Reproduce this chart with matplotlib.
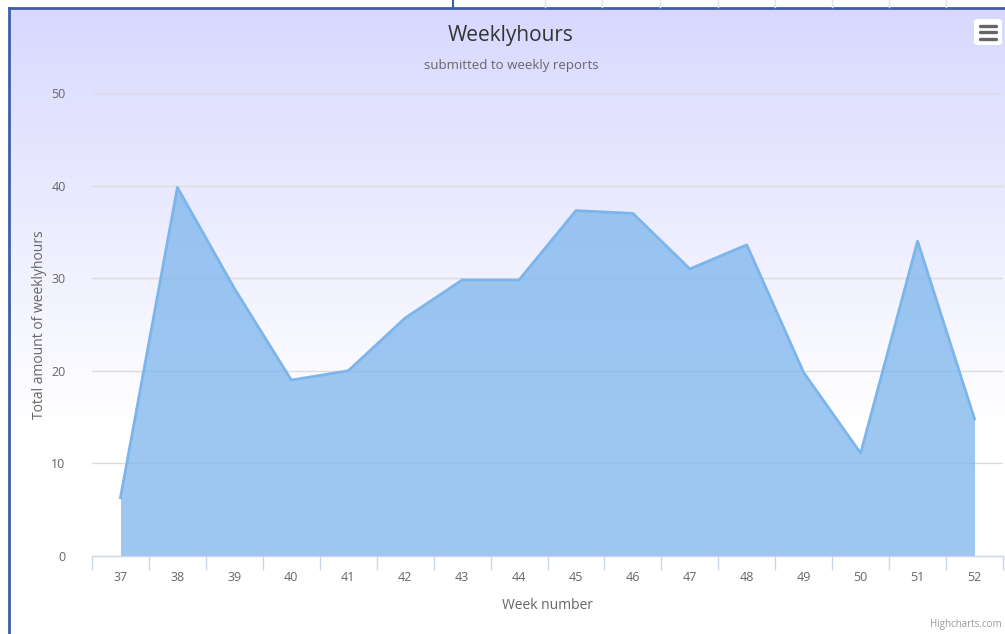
import numpy as np
import matplotlib.pyplot as plt
from matplotlib.patches import FancyBboxPatch
from matplotlib.lines import Line2D

plt.rcParams['font.family'] = ['Open Sans', 'DejaVu Sans']

weeks = ['37', '38', '39', '40', '41', '42', '43', '44',
         '45', '46', '47', '48', '49', '50', '51', '52']
hours = [6.3, 39.8, 28.9, 19.0, 20.0, 25.7, 29.8, 29.8,
         37.3, 37.0, 31.0, 33.6, 19.8, 11.1, 34.0, 14.8]

W, H = 1005, 634
fig = plt.figure(figsize=(W / 100, H / 100), dpi=100, facecolor='white')

## background gradient (lavender -> white)
bg = fig.add_axes([0, 0, 1, 1], zorder=0)
bg.set_xlim(0, W)
bg.set_ylim(H, 0)
bg.axis('off')
t = np.clip((np.arange(H) - 8) / (420 - 8), 0, 1)[:, None]
top = np.array([216, 216, 255]) / 255
grad = top[None, None, :] * (1 - t[..., None]) + t[..., None]
grad = np.repeat(grad, 2, axis=1)
grad[:8] = 1.0
bg.imshow(grad, extent=[9, W, H, 0], aspect='auto', interpolation='bilinear')
# screenshot frame lines
bg.add_line(Line2D([9, W], [8, 8], color='#3d5fa6', lw=2))
bg.add_line(Line2D([9, 9], [8, H], color='#3d5fa6', lw=2))
bg.add_line(Line2D([453, 453], [0, 8], color='#3d5fa6', lw=1.5))
for xv in [545, 602, 660, 718, 775, 832, 889, 946]:
    bg.add_line(Line2D([xv, xv], [0, 7], color='#dde3ee', lw=1))

# hamburger menu button
bg.add_patch(FancyBboxPatch((974, 19), 28, 26, boxstyle='round,pad=0,rounding_size=3',
                            fc='white', ec='none'))
for yy in [25.5, 32, 38.5]:
    bg.add_line(Line2D([980, 996], [yy, yy], color='#666666', lw=2.4, solid_capstyle='round'))

## plot area
ax = fig.add_axes([92 / W, (H - 556) / H, (1003 - 92) / W, (556 - 93) / H], zorder=1)
ax.patch.set_alpha(0)
x = np.arange(len(weeks))
ax.fill_between(x, hours, 0, color='#7cb5ec', alpha=0.75, lw=0, zorder=2)
ax.plot(x, hours, color='#7cb5ec', lw=2, zorder=3, solid_joinstyle='round')

ax.set_xlim(-0.5, len(weeks) - 0.5)
ax.set_ylim(0, 50)
ax.set_yticks(range(0, 51, 10))
ax.grid(axis='y', color='#dcdcdc', lw=1, zorder=1)
ax.set_axisbelow(True)
for s in ['top', 'right', 'left']:
    ax.spines[s].set_visible(False)
ax.spines['bottom'].set_color('#ccd6eb')
ax.spines['bottom'].set_linewidth(1)

ax.set_xticks(x)
ax.set_xticklabels(weeks)
ax.set_xticks(np.arange(-0.5, len(weeks)), minor=True)
ax.tick_params(axis='x', which='major', length=0, pad=11, labelsize=9, labelcolor='#666666')
ax.tick_params(axis='x', which='minor', length=10, color='#ccd6eb', width=1)
ax.tick_params(axis='y', length=0, pad=19, labelsize=9, labelcolor='#666666')

ax.set_xlabel('Week number', fontsize=10, color='#666666', labelpad=10)
ax.set_ylabel('Total amount of weeklyhours', fontsize=10, color='#666666')
ax.yaxis.set_label_coords((47 - 92) / 911, 0.5)

fig.text(511 / W, 1 - 35 / H, 'Weeklyhours', ha='center', va='center', fontsize=15, color='#333333')
fig.text(511 / W, 1 - 65 / H, 'submitted to weekly reports', ha='center', va='center',
         fontsize=9.5, color='#666666')
fig.text(1002 / W, 1 - 624 / H, 'Highcharts.com', ha='right', va='center', fontsize=7, color='#999999')

fig.savefig('out.png', dpi=100)
